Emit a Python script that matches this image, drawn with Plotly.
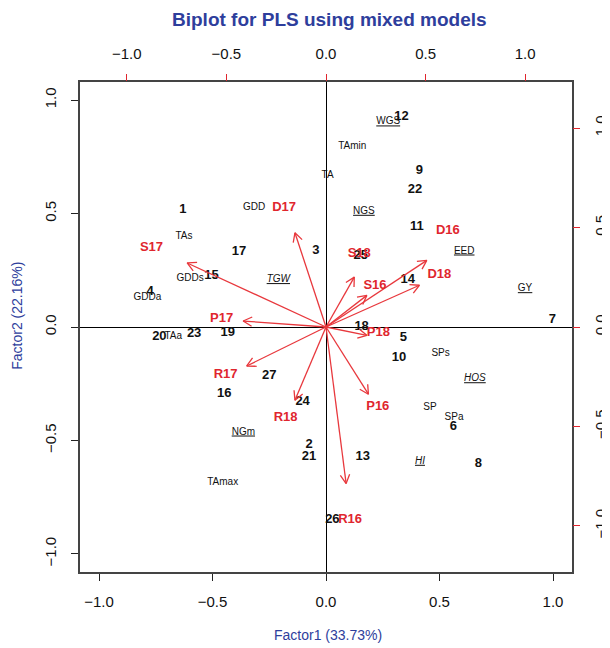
import numpy as np
import plotly.graph_objects as go

# ---------------- data ----------------
# Genotype scores (primary axes: Factor1 / Factor2)
geno_labels = [str(i) for i in range(1, 28)]
geno_x = [-0.631, -0.074, -0.045, -0.775, 0.341, 0.561, 0.997, 0.671, 0.411, 0.322,
          0.400, 0.333, 0.162, 0.360, -0.504, -0.448, -0.383, 0.157, -0.433, -0.734,
          -0.075, 0.392, -0.581, -0.103, 0.153, 0.028, -0.250]
geno_y = [0.518, -0.519, 0.334, 0.154, -0.047, -0.438, 0.033, -0.603, 0.691, -0.135,
          0.444, 0.926, -0.573, 0.210, 0.224, -0.294, 0.331, 0.000, -0.025, -0.041,
          -0.570, 0.603, -0.029, -0.331, 0.313, -0.850, -0.216]

# Trait (covariate) scores (primary axes)
trait_labels = ["TA", "TAmin", "TAmax", "TAs", "TAa", "GDD", "GDDs", "GDDa",
                "<u>WGS</u>", "<u>NGS</u>", "<u>NGm</u>", "<u><i>TGW</i></u>",
                "<u>EED</u>", "<u>GY</u>", "<u><i>HOS</i></u>", "<u><i>HI</i></u>",
                "SPs", "SP", "SPa"]
trait_x = [0.007, 0.116, -0.455, -0.626, -0.673, -0.317, -0.599, -0.787,
           0.274, 0.167, -0.364, -0.210, 0.609, 0.877, 0.656, 0.414,
           0.505, 0.458, 0.564]
trait_y = [0.669, 0.797, -0.684, 0.397, -0.041, 0.528, 0.215, 0.131,
           0.904, 0.510, -0.463, 0.209, 0.335, 0.169, -0.228, -0.592,
           -0.117, -0.353, -0.397]

# Environment loadings (secondary axes, arrows)
env_labels = ["S17", "D17", "P17", "S18", "S16", "D16", "D18", "P18",
              "R17", "R18", "P16", "R16"]
env_x = [-0.697, -0.156, -0.416, 0.142, 0.205, 0.506, 0.469, 0.205,
         -0.398, -0.156, 0.213, 0.101]
env_y = [0.322, 0.474, 0.030, 0.251, 0.159, 0.335, 0.210, -0.042,
         -0.196, -0.368, -0.338, -0.787]
# where the environment names are written (secondary axes)
env_text_x = [-0.876, -0.210, -0.524, 0.167, 0.246, 0.612, 0.569, 0.263,
              -0.504, -0.203, 0.260, 0.121]
env_text_y = [0.397, 0.598, 0.039, 0.369, 0.205, 0.486, 0.263, -0.030,
              -0.239, -0.457, -0.402, -0.968]

tick_vals = [-1.0, -0.5, 0.0, 0.5, 1.0]

# ---------------- styling ----------------
RED = "#e0262e"
ARROW = "#e8383d"
BLUE = "#2e3e9c"
FONT = "Liberation Sans, Arial, sans-serif"

# arrow paths (shaft + open V head) on secondary axes
head_len, head_ang = 0.05, np.deg2rad(28)
ax_path, ay_path = [], []
for tx, ty in zip(env_x, env_y):
    th = np.arctan2(ty, tx)
    ax_path += [0, tx, None,
                tx - head_len * np.cos(th - head_ang), tx,
                tx - head_len * np.cos(th + head_ang), None]
    ay_path += [0, ty, None,
                ty - head_len * np.sin(th - head_ang), ty,
                ty - head_len * np.sin(th + head_ang), None]

fig = go.Figure()

fig.add_trace(go.Scatter(
    x=trait_x, y=trait_y, mode="text", text=trait_labels,
    textfont=dict(family=FONT, size=10, color="#111111"),
    hoverinfo="skip", showlegend=False))

fig.add_trace(go.Scatter(
    x=geno_x, y=geno_y, mode="text", text=geno_labels,
    textfont=dict(family=FONT, size=13, color="#111111", weight="bold"),
    hoverinfo="skip", showlegend=False))

fig.add_trace(go.Scatter(
    x=ax_path, y=ay_path, mode="lines", xaxis="x2", yaxis="y2",
    line=dict(color=ARROW, width=1.3),
    hoverinfo="skip", showlegend=False))

fig.add_trace(go.Scatter(
    x=env_text_x, y=env_text_y, mode="text", text=env_labels,
    xaxis="x2", yaxis="y2",
    textfont=dict(family=FONT, size=13, color=RED, weight="bold"),
    hoverinfo="skip", showlegend=False))

tickfont = dict(family=FONT, size=15, color="#111111")

# the page body adds an 8px offset, so margins are set 8px smaller on top/left
fig.update_layout(
    width=610, height=648,
    margin=dict(l=72, r=46, t=74, b=84),
    paper_bgcolor="white", plot_bgcolor="white",
    xaxis=dict(range=[-1.0837, 1.0837], tickvals=tick_vals, tickformat=".1f",
               ticks="outside", ticklen=7, tickcolor="#222", tickwidth=1,
               showline=True, mirror=True, linecolor="#444", linewidth=2,
               showgrid=False, zeroline=True, zerolinecolor="black", zerolinewidth=1,
               tickfont=tickfont, ticklabelstandoff=8, automargin=False),
    yaxis=dict(range=[-1.08, 1.08], tickvals=tick_vals, tickformat=".1f",
               ticks="outside", ticklen=7, tickcolor="#222", tickwidth=1,
               showline=True, mirror=True, linecolor="#444", linewidth=2,
               showgrid=False, zeroline=True, zerolinecolor="black", zerolinewidth=1,
               tickangle=-90, tickfont=tickfont, ticklabelstandoff=9, automargin=False),
    xaxis2=dict(overlaying="x", side="top", anchor="y",
                range=[-1.235, 1.235], tickvals=tick_vals, tickformat=".1f",
                ticks="outside", ticklen=7, tickcolor=RED, tickwidth=1,
                showline=False, showgrid=False, zeroline=False,
                tickfont=tickfont, ticklabelstandoff=9, automargin=False),
    yaxis2=dict(overlaying="y", side="right", anchor="x",
                range=[-1.232, 1.232], tickvals=tick_vals, tickformat=".1f",
                ticks="outside", ticklen=7, tickcolor=RED, tickwidth=1,
                showline=False, showgrid=False, zeroline=False,
                tickangle=-90, tickfont=tickfont, ticklabelstandoff=8, automargin=False),
    annotations=[
        dict(text="<b>Biplot for PLS using mixed models</b>", xref="paper", yref="paper",
             x=0.507, y=1.127, showarrow=False, xanchor="center", yanchor="middle",
             font=dict(family="Liberation Sans Narrow, Liberation Sans, Arial", size=19, color=BLUE)),
        dict(text="Factor1 (33.73%)", xref="paper", yref="paper",
             x=0.505, y=-0.129, showarrow=False, xanchor="center", yanchor="middle",
             font=dict(family=FONT, size=14, color=BLUE)),
        dict(text="Factor2 (22.16%)", xref="paper", yref="paper",
             x=-0.127, y=0.522, showarrow=False, xanchor="center", yanchor="middle",
             textangle=-90, font=dict(family=FONT, size=14, color=BLUE)),
    ],
)

fig.write_html("out.html")
